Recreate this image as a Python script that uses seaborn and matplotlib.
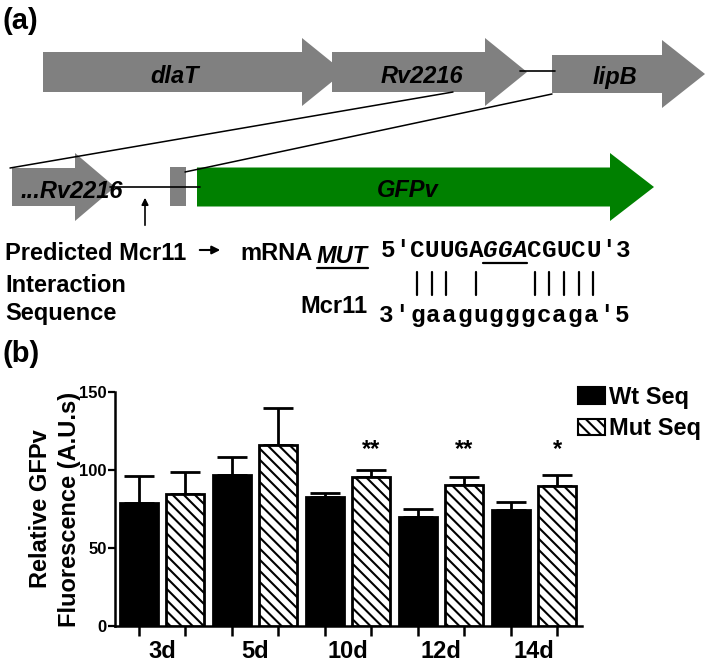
import pandas as pd
import matplotlib
matplotlib.use('Agg')
import matplotlib.pyplot as plt
from matplotlib.patches import Polygon, Rectangle, Patch
import seaborn as sns

sns.set_style('ticks')
plt.rcParams['font.family'] = ['Liberation Sans', 'DejaVu Sans']
plt.rcParams['hatch.linewidth'] = 1.5
for key in ['text.color', 'axes.labelcolor', 'xtick.color', 'ytick.color', 'axes.edgecolor']:
    plt.rcParams[key] = 'black'

# ---- panel (b) data: relative GFPv fluorescence (A.U.s), mean and error
days = ['3d', '5d', '10d', '12d', '14d']
wt_mean = [79, 97, 83, 70, 74.5]
wt_err = [17, 11.5, 2.5, 5, 5]
mut_mean = [84.5, 116, 95.5, 90.5, 90]
mut_err = [14, 24, 4.5, 5, 6.5]
stars = ['', '', '**', '**', '*']
groups = ['Wt Seq', 'Mut Seq']

# ---- panel (a) sequence text
upper_seq = 'CUUGAGGACGUCU'
lower_seq = "3'gaagugggcaga'5"
paired = [0, 1, 2, 4, 8, 9, 10, 11, 12]
italic_idx = [5, 6, 7]

GREY = '#808080'
GREEN = '#008000'
HATCH = '\\\\\\'

fig = plt.figure(figsize=(7.09, 6.64), dpi=100)

# overlay in pixel coords for the gene diagram and panel letters
ov = fig.add_axes([0, 0, 1, 1])
ov.set_xlim(0, 709)
ov.set_ylim(664, 0)
ov.axis('off')


def gene(x0, hx, tip, yc, bh, hh, color):
    pts = [(x0, yc - bh), (hx, yc - bh), (hx, yc - hh), (tip, yc),
           (hx, yc + hh), (hx, yc + bh), (x0, yc + bh)]
    ov.add_patch(Polygon(pts, closed=True, facecolor=color, edgecolor='none'))


bi = dict(fontsize=17, fontweight='bold', fontstyle='italic', ha='center', va='baseline')
bold = dict(fontsize=17, fontweight='bold', va='baseline')

ov.text(2, 29, '(a)', fontsize=21, fontweight='bold', ha='left', va='baseline')
ov.text(2, 362, '(b)', fontsize=21, fontweight='bold', ha='left', va='baseline')

# top operon
ov.plot([520, 555], [71, 71], color='black', lw=1.2)
gene(43, 302, 344, 72, 20, 34, GREY)
gene(332, 485, 527, 72, 20, 34, GREY)
gene(552, 662, 705, 74, 19, 34, GREY)
ov.text(175, 83, 'dlaT', **bi)
ov.text(422, 83, 'Rv2216', **bi)
ov.text(615, 84, 'lipB', **bi)

# zoom lines
ov.plot([453, 10], [92, 168], color='black', lw=1.1)
ov.plot([552, 185], [94, 172], color='black', lw=1.1)

# reporter construct
ov.plot([110, 200], [187, 187], color='black', lw=1.2)
gene(12, 75, 115, 187, 19, 34, GREY)
ov.add_patch(Rectangle((170, 167), 16, 39, facecolor=GREY, edgecolor='none'))
gene(197, 610, 654, 187, 19.5, 34, GREEN)
ov.text(72, 198, '...Rv2216', **bi)
ov.text(408, 197, 'GFPv', **bi)
ov.annotate('', xy=(145, 195), xytext=(145, 228),
            arrowprops=dict(arrowstyle='-|>', color='black', lw=1.2, mutation_scale=10))

# interaction text
ov.text(5, 260, 'Predicted Mcr11', ha='left', **bold)
ov.annotate('', xy=(223, 250), xytext=(197, 250),
            arrowprops=dict(arrowstyle='-|>', color='black', lw=1.5, mutation_scale=12))
ov.text(5, 292, 'Interaction', ha='left', **bold)
ov.text(5, 320, 'Sequence', ha='left', **bold)
ov.text(240, 260, 'mRNA', ha='left', **bold)
ov.text(317, 263, 'MUT', ha='left', fontstyle='italic', **bold)
ov.plot([317, 368], [268, 268], color='black', lw=1.6)
ov.text(300, 313, 'Mcr11', ha='left', **bold)

mono = dict(family='Liberation Mono', fontsize=17.5, fontweight='bold', ha='center', va='baseline')
pitch_u = 14.7
x_c = 417
ov.text(x_c - 2 * pitch_u, 257, '5', **mono)
ov.text(x_c - 1 * pitch_u, 257, "'", **mono)
for i, ch in enumerate(upper_seq):
    st = 'italic' if i in italic_idx else 'normal'
    ov.text(x_c + i * pitch_u, 257, ch, fontstyle=st, **mono)
n = len(upper_seq)
ov.text(x_c + n * pitch_u, 257, "'", **mono)
ov.text(x_c + (n + 1) * pitch_u, 257, '3', **mono)
ov.plot([x_c + italic_idx[0] * pitch_u - 7.5, x_c + italic_idx[-1] * pitch_u + 7.5],
        [263, 263], color='black', lw=1.6)
for i in paired:
    ov.plot([x_c + i * pitch_u] * 2, [272, 295], color='black', lw=1.6)

pitch_l = 15.75
for i, ch in enumerate(lower_seq):
    ov.text(386 + i * pitch_l, 322, ch, **mono)

# ---- panel (b) bar chart
df = pd.DataFrame({
    'day': days * 2,
    'seq': [groups[0]] * len(days) + [groups[1]] * len(days),
    'value': wt_mean + mut_mean,
})

ax = fig.add_axes([115 / 709, 38 / 664, 467 / 709, 234 / 664])
sns.barplot(data=df, x='day', y='value', hue='seq', hue_order=groups,
            palette={groups[0]: 'black', groups[1]: 'white'},
            width=0.99, gap=0.18, edgecolor='black', linewidth=2,
            errorbar=None, legend=False, ax=ax, zorder=3)

centers = []
for cont, errs, hatch in zip(ax.containers, [wt_err, mut_err], [None, HATCH]):
    xs = [b.get_x() + b.get_width() / 2 for b in cont]
    hs = [b.get_height() for b in cont]
    centers += xs
    if hatch:
        for b in cont:
            b.set_hatch(hatch)
    ax.errorbar(xs, hs, yerr=[[0] * len(errs), errs], fmt='none', ecolor='black',
                elinewidth=2, capsize=10.5, capthick=2, zorder=2)

mut_x = [b.get_x() + b.get_width() / 2 for b in ax.containers[1]]
for x, s in zip(mut_x, stars):
    if s:
        ax.text(x, 113, s, ha='center', va='center', fontsize=17, fontweight='bold')

ax.set_ylim(0, 150)
ax.set_xlim(-0.505, 4.516)
ax.set_yticks([0, 50, 100, 150])
ax.set_xticks(centers, minor=True)
ax.set_xlabel('')
ax.set_ylabel('Relative GFPv\nFluorescence (A.U.s)', fontsize=17, fontweight='bold',
              linespacing=1.35)
ax.yaxis.set_label_coords(-0.072, 0.5)
sns.despine(ax=ax)
for sp in ['left', 'bottom']:
    ax.spines[sp].set_linewidth(1.8)
ax.tick_params(axis='y', length=5, width=1.6, pad=1, labelsize=12)
ax.tick_params(axis='x', which='major', length=0, pad=10, labelsize=17)
ax.tick_params(axis='x', which='minor', length=7, width=1.8, direction='out')
for lab in ax.get_xticklabels() + ax.get_yticklabels():
    lab.set_fontweight('bold')

handles = [Patch(facecolor='black', edgecolor='black', linewidth=1.5),
           Patch(facecolor='white', edgecolor='black', linewidth=1.5, hatch=HATCH)]
ax.legend(handles, groups, loc='upper left', bbox_to_anchor=(578 / 709, 1 - 386 / 664),
          bbox_transform=fig.transFigure, frameon=False, borderpad=0, borderaxespad=0,
          handlelength=1.15, handleheight=0.7, handletextpad=0.15, labelspacing=0.35,
          prop={'weight': 'bold', 'size': 17})

fig.savefig('out.png', dpi=100)
